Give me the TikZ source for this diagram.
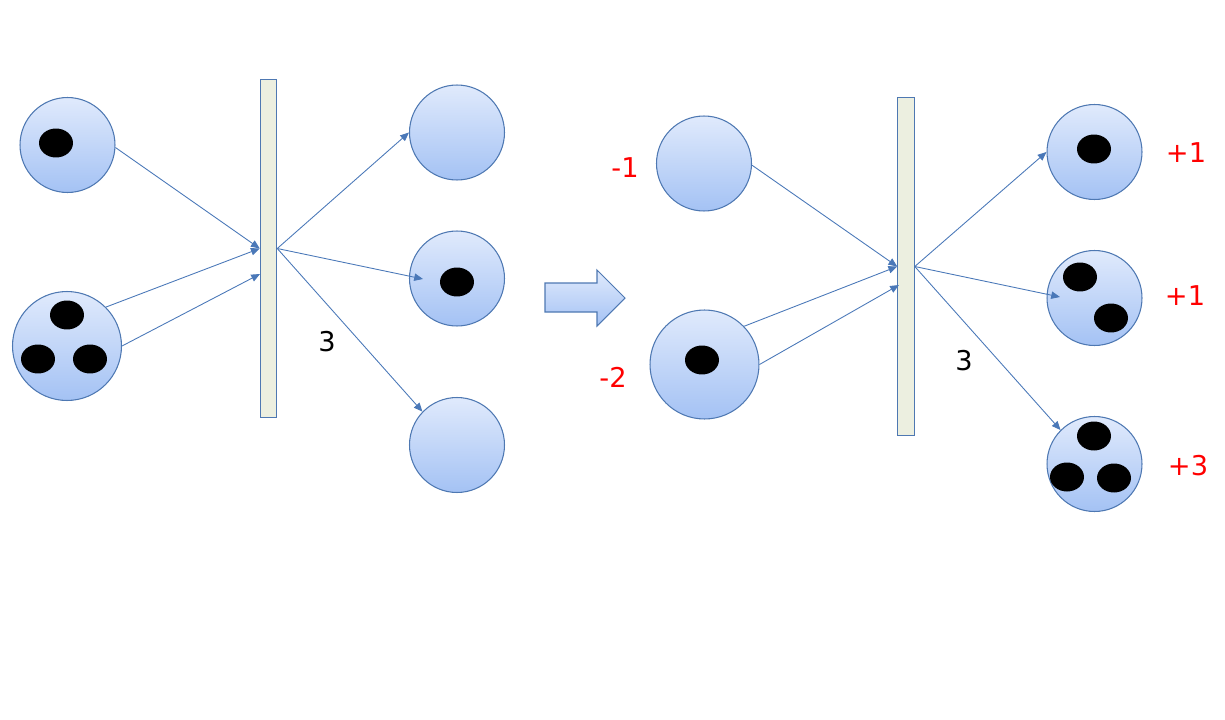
\documentclass[tikz,border=0pt]{standalone}
\usepackage{fontspec}
\setmainfont{DejaVu Sans}
\usepackage{tikz}
\usetikzlibrary{arrows.meta,shapes,positioning}
\definecolor{cellline}{RGB}{78,120,178}
\definecolor{celltop}{RGB}{224,234,252}
\definecolor{cellbot}{RGB}{164,194,244}
\definecolor{flowblue}{RGB}{74,120,184}
\definecolor{barfill}{RGB}{236,239,224}

\begin{document}
\begin{tikzpicture}
[x=0.02cm,y=-0.02cm]
\tikzset{
	cell/.style = {circle, draw=cellline, line width=0.6pt, top color=celltop, bottom color=cellbot, minimum size=1.9cm, inner sep=0},
	bigcell/.style = {cell, minimum size=2.18cm},
	spot/.style = {ellipse, fill=black, minimum width=0.68cm, minimum height=0.58cm, inner sep=0},
	membrane/.style = {rectangle, draw=cellline, line width=0.6pt, fill=barfill, minimum width=0.33cm, minimum height=6.76cm, inner sep=0},
	flow/.style = {draw=flowblue, line width=0.5pt, -{Triangle[length=5pt,width=4.2pt]}},
	charge/.style = {text=red, font=\fontsize{15.5}{18}\selectfont},
	numlabel/.style = {font=\fontsize{15.5}{18}\selectfont}
}
\useasboundingbox (0,0) rectangle (1225,720);

% left
\node (a1) [cell] at (67.5,145) {};
\node (a2) [bigcell] at (67,346) {};
\node (b1) [cell] at (457,132.5) {};
\node (b2) [cell] at (457,278.5) {};
\node (b3) [cell] at (457,445) {};
\node (bar1) [membrane] at (268.5,248.5) {};

% right
\node (c1) [cell] at (704,163.5) {};
\node (c2) [bigcell] at (704.5,364.5) {};
\node (d1) [cell] at (1094.5,152) {};
\node (d2) [cell] at (1094.5,298) {};
\node (d3) [cell] at (1094.5,464) {};
\node (bar2) [membrane] at (906,266.5) {};

\foreach \p [count=\i] in {(56,143),(67,315),(38,359),(90,359),(457,282),(702,360),(1094,149),(1080,277),(1111,318),(1094,436),(1067,477),(1114,478)}
	\node (spot\i) [spot] at \p {};

\coordinate (in1) at (260,274);
\coordinate (out1) at (423,279);
\coordinate (in2) at (899,285);
\coordinate (out2) at (1060,297);

\draw [flow] (a1.-3) -- (bar1.west);
\draw [flow] (a2.45) -- (bar1.west);
\draw [flow] (a2.0) -- (in1);
\draw [flow] (bar1.east) -- (b1.west);
\draw [flow] (bar1.east) -- (out1);
\draw [flow] (bar1.east) -- (b3.136);

\draw [flow] (c1.-2) -- (bar2.west);
\draw [flow] (c2.44) -- (bar2.west);
\draw [flow] (c2.0) -- (in2);
\draw [flow] (bar2.east) -- (d1.west);
\draw [flow] (bar2.east) -- (out2);
\draw [flow] (bar2.east) -- (d3.135);

\draw [draw=cellline, line width=0.6pt, top color=celltop, bottom color=cellbot]
	(545,283) -- (597,283) -- (597,270) -- (625,298) -- (597,326) -- (597,312) -- (545,312) -- cycle;

\node (n1) [numlabel] at (327,342) {3};
\node (n2) [numlabel] at (964,361) {3};
\node (q1) [charge] at (625,168) {-1};
\node (q2) [charge] at (613,377) {-2};
\node (q3) [charge] at (1186,153) {+1};
\node (q4) [charge] at (1185,296) {+1};
\node (q5) [charge] at (1188,466) {+3};
\end{tikzpicture}
\end{document}
